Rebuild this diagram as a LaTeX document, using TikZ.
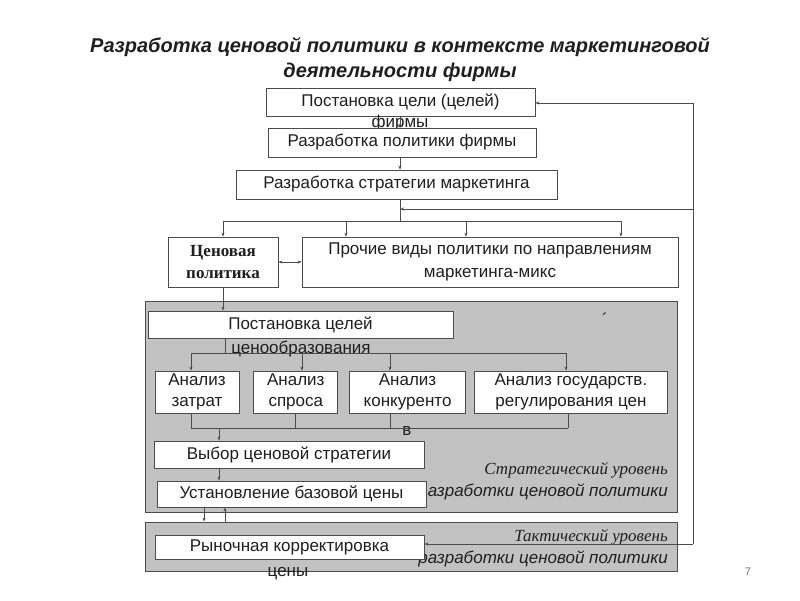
\documentclass[tikz,border=0pt]{standalone}
\usepackage{fontspec}
\setmainfont{Liberation Sans}
\newfontfamily\timesfont{Liberation Serif}
\usetikzlibrary{positioning,arrows.meta}
\definecolor{edgegray}{gray}{0.3}
\definecolor{levelgray}{gray}{0.76}
\definecolor{inkgray}{gray}{0.12}
\tikzset{box/.style={draw=edgegray,fill=white,line width=0.8pt,inner sep=0pt,align=center,text=inkgray,font=\fontsize{17}{21}\selectfont},
	 level/.style={draw=edgegray,fill=levelgray,line width=0.9pt,inner sep=0pt},
	 spill/.style={inner sep=0pt,text=inkgray,font=\fontsize{17}{21}\selectfont},
	 lvlname/.style={inner sep=0pt,anchor=east,text=inkgray},
	 link/.style={draw=edgegray,line width=0.6pt},
	 arr/.style={link,-{Stealth[length=4pt,width=3pt]}},
	 node distance = 14pt
	 }

\begin{document}
\begin{tikzpicture}[x=1pt,y=-1pt] % pricing policy within the marketing activity
	\useasboundingbox (0,0) rectangle (800,600);
	\node[inner sep=0pt,align=center,text=inkgray,font=\fontsize{20}{25}\selectfont\bfseries\itshape] (title) at (400,59.5) {Разработка ценовой политики в контексте маркетинговой\\деятельности фирмы};
	% levels
	\node[level,minimum width=532pt,minimum height=211pt] (strategic) at (411,406.5) {};
	\node[level,minimum width=532pt,minimum height=49pt] (tactical) at (411,546.5) {};
	\node[lvlname,font=\fontsize{17}{20}\selectfont\timesfont\itshape] (stratname) at (668,470) {Стратегический уровень};
	\node[lvlname,font=\fontsize{17}{20}\selectfont\itshape] (stratname2) at (668,492) {разработки ценовой политики};
	\node[lvlname,font=\fontsize{17}{20}\selectfont\timesfont\itshape] (tactname) at (668,537) {Тактический уровень};
	\node[lvlname,font=\fontsize{17}{20}\selectfont\itshape] (tactname2) at (668,559) {разработки ценовой политики};
	\node[spill] (tick) at (605,319) {´};
	% firm level
	\node[box,minimum width=269pt,minimum height=28pt] (goal) at (400.5,102) {Постановка цели (целей)};
	\node[spill] (goalrest) at (400,123) {фирмы};
	\node[box,minimum width=268pt,minimum height=29pt] (policy) at (402,142.5) {Разработка политики фирмы};
	\node[box,minimum width=321pt,minimum height=29pt] (strat) at (396.5,184.5) {Разработка стратегии маркетинга};
	\node[box,minimum width=110pt,minimum height=50pt,font=\fontsize{17}{22}\selectfont\timesfont\bfseries] (price) at (223,262) {Ценовая\\политика};
	\node[box,minimum width=376pt,minimum height=50pt,font=\fontsize{17}{23}\selectfont] (other) at (490,262) {Прочие виды политики по направлениям\\маркетинга-микс};
	% strategic level
	\node[box,minimum width=305pt,minimum height=27pt] (pgoal) at (300.5,324.5) {Постановка целей};
	\node[spill] (pgoalrest) at (301,349) {ценообразования};
	\node[box,minimum width=84pt,minimum height=42pt] (a1) at (197,392) {Анализ\\затрат};
	\node[box,minimum width=84pt,minimum height=42pt,right=of a1] (a2) {Анализ\\спроса};
	\node[box,minimum width=116pt,minimum height=42pt,right=11pt of a2] (a3) {Анализ\\конкуренто};
	\node[box,minimum width=193pt,minimum height=42pt,right=8pt of a3] (a4) {Анализ государств.\\регулирования цен};
	\node[spill] (a3rest) at (407,431) {в};
	\node[box,minimum width=270pt,minimum height=27pt] (choice) at (289,454.5) {Выбор ценовой стратегии};
	\node[box,minimum width=269pt,minimum height=26pt] (base) at (291.5,494) {Установление базовой цены};
	% tactical level
	\node[box,minimum width=269pt,minimum height=24pt] (market) at (289.5,547) {Рыночная корректировка};
	\node[spill] (marketrest) at (288,574) {цены};
	\node[inner sep=0pt,text=black!55,font=\fontsize{11}{13}\selectfont] (pagenum) at (748,572) {7};
	% connectors
	\coordinate (split) at (400,221);
	\draw[arr] (goal.south -| split) -- (policy.north -| split);
	\draw[arr] (policy.south -| split) -- (strat.north -| split);
	\draw[link] (strat.south -| split) -- (split);
	\draw[link] (split -| price.north) -- (split -| 621,0);
	\draw[arr] (split -| price.north) -- (price.north);
	\foreach \x in {346,466,621} \draw[arr] (\x,221) -- (other.north -| \x,0);
	\draw[link,{Stealth[length=4pt,width=3pt]}-{Stealth[length=4pt,width=3pt]}] (price.east) -- (other.west);
	\draw[arr] (price.south) -- (price.south |- pgoal.north);
	\coordinate (fan) at (225,353);
	\draw[link] (pgoal.south -| fan) -- (fan);
	\draw[link] (191,353) -- (566,353);
	\foreach \x/\a in {191/a1,302/a2,390/a3,566/a4} \draw[arr] (\x,353) -- (\a.north -| \x,0);
	\foreach \x/\a in {191/a1,295/a2,390/a3,568/a4} \draw[link] (\a.south -| \x,0) -- (\x,428);
	\draw[link] (191,428) -- (568,428);
	\draw[arr] (219,428) -- (choice.north -| 219,0);
	\draw[arr] (choice.south -| 219,0) -- (base.north -| 219,0);
	\draw[arr] (base.south -| 204,0) -- (tactical.north -| 204,0);
	\draw[arr] (tactical.north -| 225,0) -- (base.south -| 225,0);
	% feedback loop
	\coordinate (fbtop) at (693,103);
	\coordinate (fbmid) at (693,209);
	\coordinate (fbbot) at (693,544);
	\draw[link] (fbbot) -- (fbtop);
	\draw[arr] (fbtop) -- (fbtop -| goal.east);
	\draw[arr] (fbmid) -- (fbmid -| split);
	\draw[arr] (fbbot) -- (fbbot -| market.east);
\end{tikzpicture}
\end{document}
